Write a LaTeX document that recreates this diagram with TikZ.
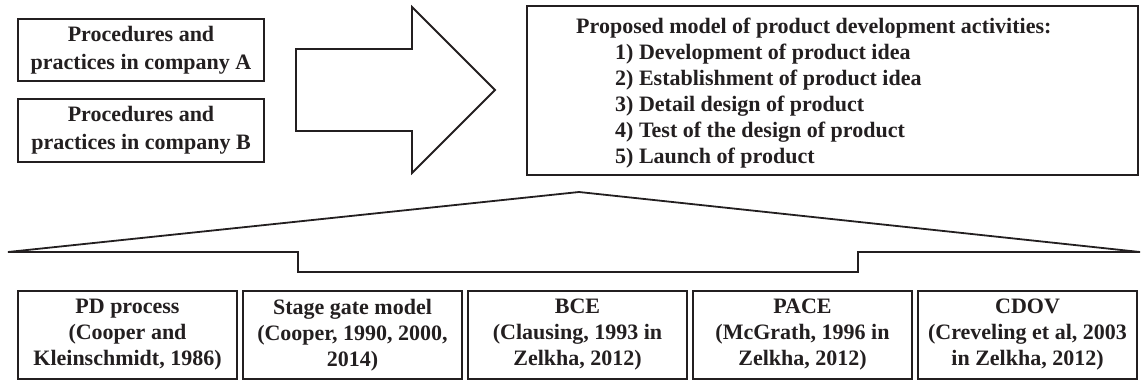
\documentclass[tikz,border=0pt]{standalone}
\usepackage{fontspec}
\setmainfont{Liberation Serif}
\definecolor{ink}{RGB}{35,31,32}
\begin{document}
\begin{tikzpicture}[x=1pt,y=-1pt,
  txtfont/.style={font=\bfseries\fontsize{22}{26}\selectfont, text=ink},
  box/.style={draw=ink, line width=1.8pt, inner sep=0pt, align=center, txtfont},
  leftbox/.style={box, minimum width=246pt, minimum height=62pt, font=\bfseries\fontsize{22}{28}\selectfont},
  refbox/.style={box, minimum width=219pt, minimum height=88pt},
  line/.style={txtfont, inner sep=0pt, anchor=base west},
  outline/.style={draw=ink, line width=1.8pt, line join=miter}]
\useasboundingbox (0,0) rectangle (1141,381);
% left boxes
\node[leftbox] (A) at (141,50) {Procedures and\\practices in company A};
\node[leftbox, minimum height=63pt] (B) at (141,130.5) {Procedures and\\practices in company B};
% block arrow
\draw[outline] (296,49) -- (412,49) -- (412,7) -- (495,90) -- (412,173) -- (412,131) -- (296,131) -- cycle;
% proposed model box
\node[draw=ink, line width=2.6pt, minimum width=611pt, minimum height=169pt, inner sep=0pt] (model) at (832.5,90.5) {};
\node[line] (t0) at (576,33.3) {Proposed model of product development activities:};
\node[line] (t1) at (615,59.3) {1) Development of product idea};
\node[line] (t2) at (615,85.3) {2) Establishment of product idea};
\node[line] (t3) at (615,111.3) {3) Detail design of product};
\node[line] (t4) at (615,137.3) {4) Test of the design of product};
\node[line] (t5) at (615,163.3) {5) Launch of product};
% brace shape
\coordinate (apex) at (579,192);
\coordinate (lp) at (8,252);
\coordinate (rp) at (1140,252);
\draw[outline] (lp) -- (apex) -- (rp) -- (858,252) -- (858,272) -- (298,272) -- (298,252) -- cycle;
% bottom boxes
\node[refbox] (r1) at (127.5,335) {PD process\\(Cooper and\\Kleinschmidt, 1986)};
\node[refbox] (r2) at (352.5,335) {Stage gate model\\(Cooper, 1990, 2000,\\2014)};
\node[refbox] (r3) at (577.5,335) {BCE\\(Clausing, 1993 in\\Zelkha, 2012)};
\node[refbox] (r4) at (802.5,335) {PACE\\(McGrath, 1996 in\\Zelkha, 2012)};
\node[refbox] (r5) at (1027.5,335) {CDOV\\(Creveling et al, 2003\\in Zelkha, 2012)};
\end{tikzpicture}
\end{document}
